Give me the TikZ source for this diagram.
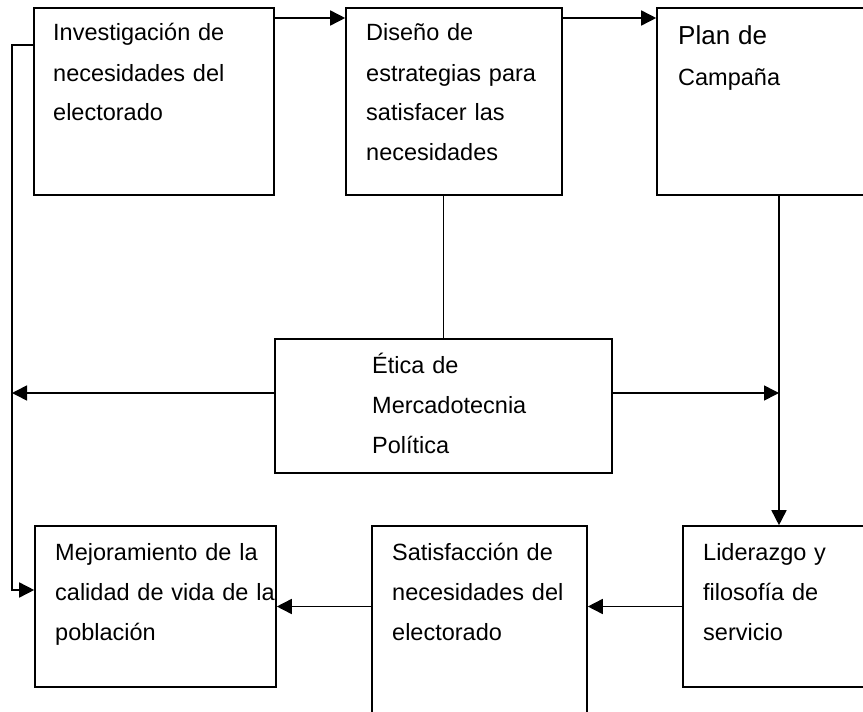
\documentclass[tikz,border=0pt]{standalone}
\usepackage{fontspec}
\setmainfont{Liberation Sans}
\usetikzlibrary{arrows.meta}

\begin{document}
\begin{tikzpicture}[x=1pt, y=-1pt,
    box/.style={draw, line width=1.6pt, inner sep=0pt},
    txt/.style={anchor=base west, inner sep=0pt, text width=225pt, align=left,
      font=\fontsize{23.5}{40}\selectfont},
    arr/.style={-{Triangle[length=15pt, width=15pt]}, line width=1.6pt}]
  %\draw[help lines, step=50] (0,0) grid (863,712);
  \useasboundingbox (0,0) rectangle (863,712);
  \clip (0,0) rectangle (863,712);

  % boxes
  \node[box, minimum width=240pt, minimum height=187pt] (inv) at (154,101.5) {};
  \node[box, minimum width=216pt, minimum height=187pt] (dis) at (454,101.5) {};
  \node[box, minimum width=244pt, minimum height=187pt] (plan) at (779,101.5) {};
  \node[box, minimum width=337pt, minimum height=134pt] (etica) at (443.5,406) {};
  \node[box, minimum width=241pt, minimum height=161pt] (mej) at (155.5,606.5) {};
  \node[box, minimum width=215pt, minimum height=204pt] (sat) at (479.5,628) {};
  \node[box, minimum width=192pt, minimum height=161pt] (lid) at (779,606.5) {};

  % texts
  \node[txt] (invtxt) at (53,41) {Investigación de\\ necesidades del\\ electorado};
  \node[txt] (distxt) at (366,41) {Diseño de\\ estrategias para\\ satisfacer las\\ necesidades};
  \node[txt] (plantxt) at (678,45) {{\fontsize{26}{40}\selectfont Plan de}\\ Campaña};
  \node[txt] (eticatxt) at (372,373) {Ética de\\ Mercadotecnia\\ Política};
  \node[txt] (mejtxt) at (55,560) {Mejoramiento de la\\ calidad de vida de la\\ población};
  \node[txt] (sattxt) at (392,560) {Satisfacción de\\ necesidades del\\ electorado};
  \node[txt] (lidtxt) at (703,560) {Liderazgo y\\ filosofía de\\ servicio};

  % connectors
  \coordinate (top) at (0,18);
  \coordinate (mid) at (0,393);
  \coordinate (lftA) at (12,45);
  \coordinate (lftB) at (12,590);
  \draw[arr] (inv.east |- top) -- (dis.west |- top);
  \draw[arr] (dis.east |- top) -- (plan.west |- top);
  \draw[arr] (inv.west |- lftA) -- (lftA) -- (lftB) -- (mej.west |- lftB);
  \draw[line width=1.6pt] (etica.north) -- (etica.north |- dis.south);
  \draw[arr] (etica.west |- mid) -- (lftA |- mid);
  \draw[arr] (etica.east |- mid) -- (plan.south |- mid);
  \draw[arr] (plan.south) -- (lid.north);
  \draw[arr] (lid.west) -- (sat.east |- lid.west);
  \draw[arr] (sat.west |- mej.east) -- (mej.east);
\end{tikzpicture}
\end{document}
